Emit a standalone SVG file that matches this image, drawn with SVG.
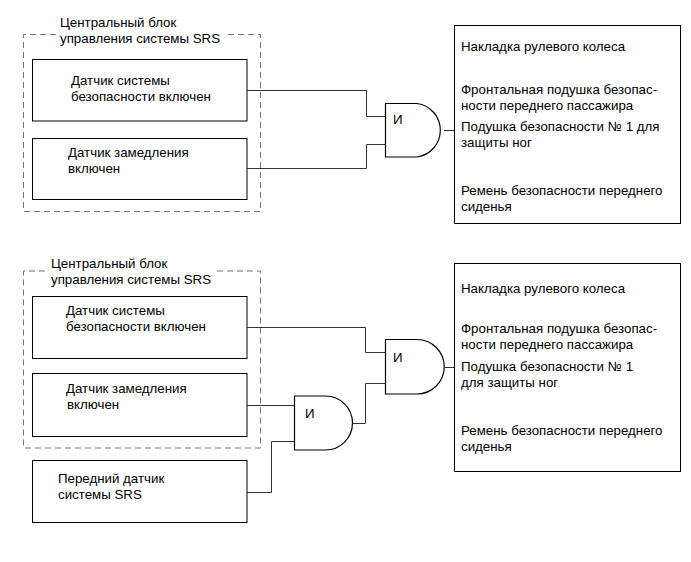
<svg xmlns="http://www.w3.org/2000/svg" width="691" height="562" viewBox="0 0 691 562">
<style>
text{font-family:"Liberation Sans",Arial,sans-serif;font-size:13.3px;fill:#000}
.box{fill:#fff;stroke:#000;stroke-width:1}
.gate{fill:#fff;stroke:#000;stroke-width:1.2}
.dash{fill:none;stroke:#777;stroke-width:1;stroke-dasharray:6 4}
.wire{fill:none;stroke:#333;stroke-width:1}
</style>
<rect width="691" height="562" fill="#fff"/>
<!-- top section -->
<g id="srs-unit-1">
<path class="dash" d="M56,34.5 H23.5 V211.5 H260.5 V34.5 H225"/>
<text x="60" y="27">Центральный блок</text>
<text x="60" y="43">управления системы SRS</text>
</g>
<g id="sensor-safety-1">
<rect class="box" x="32.5" y="59.5" width="214.5" height="61.5"/>
<text x="71" y="85">Датчик системы</text>
<text x="71" y="101">безопасности включен</text>
</g>
<g id="sensor-decel-1">
<rect class="box" x="32.5" y="138.5" width="214.5" height="61"/>
<text x="68" y="157">Датчик замедления</text>
<text x="68" y="173">включен</text>
</g>
<g id="and-1">
<path class="gate" d="M385.5,103.5 H417 A27,27 0 0 1 417,157 H385.5 Z"/>
<text x="393" y="124">И</text>
</g>
<g id="outputs-1">
<rect class="box" x="454.5" y="25.5" width="226" height="198"/>
<text x="461" y="51">Накладка рулевого колеса</text>
<text x="461" y="94">Фронтальная подушка безопас-</text>
<text x="461" y="110">ности переднего пассажира</text>
<text x="461" y="131">Подушка безопасности № 1 для</text>
<text x="461" y="147">защиты ног</text>
<text x="461" y="195">Ремень безопасности переднего</text>
<text x="461" y="211">сиденья</text>
</g>
<!-- bottom section -->
<g id="srs-unit-2">
<path class="dash" d="M45,271 H23.5 V448 H260.5 V271 H217"/>
<text x="51" y="268">Центральный блок</text>
<text x="51" y="284">управления системы SRS</text>
</g>
<g id="sensor-safety-2">
<rect class="box" x="32.5" y="296.5" width="214.5" height="62"/>
<text x="66" y="315">Датчик системы</text>
<text x="66" y="331">безопасности включен</text>
</g>
<g id="sensor-decel-2">
<rect class="box" x="32.5" y="373.5" width="214.5" height="63"/>
<text x="66" y="393">Датчик замедления</text>
<text x="67" y="409">включен</text>
</g>
<g id="sensor-front">
<rect class="box" x="32.5" y="460.5" width="214.5" height="62"/>
<text x="58" y="483">Передний датчик</text>
<text x="58" y="499">системы SRS</text>
</g>
<g id="and-2a">
<path class="gate" d="M294.5,396 H325.5 A27,27 0 0 1 325.5,450 H294.5 Z"/>
<text x="305" y="418">И</text>
</g>
<g id="and-2b">
<path class="gate" d="M385.5,339.5 H417 A27.25,27.25 0 0 1 417,394 H385.5 Z"/>
<text x="393" y="362">И</text>
</g>
<g id="outputs-2">
<rect class="box" x="454.5" y="263.5" width="226" height="208"/>
<text x="461" y="293">Накладка рулевого колеса</text>
<text x="461" y="333">Фронтальная подушка безопас-</text>
<text x="461" y="349">ности переднего пассажира</text>
<text x="461" y="371">Подушка безопасности № 1</text>
<text x="461" y="387">для защиты ног</text>
<text x="461" y="435">Ремень безопасности переднего</text>
<text x="461" y="451">сиденья</text>
</g>
<g id="connectors">
<path class="wire" d="M247,90.5 H366.5 V116.5 H385.5"/>
<path class="wire" d="M247,168.5 H366.5 V144.5 H385.5"/>
<path class="wire" d="M444,130.5 H454.5"/>
<path class="wire" d="M247,327.5 H365.5 V352.5 H385.5"/>
<path class="wire" d="M247,405.5 H294.5"/>
<path class="wire" d="M247,492.5 H271.5 V441.5 H294.5"/>
<path class="wire" d="M352.5,423.5 H365.5 V383.5 H385.5"/>
<path class="wire" d="M444.25,367.5 H454.5"/>
</g>
</svg>
